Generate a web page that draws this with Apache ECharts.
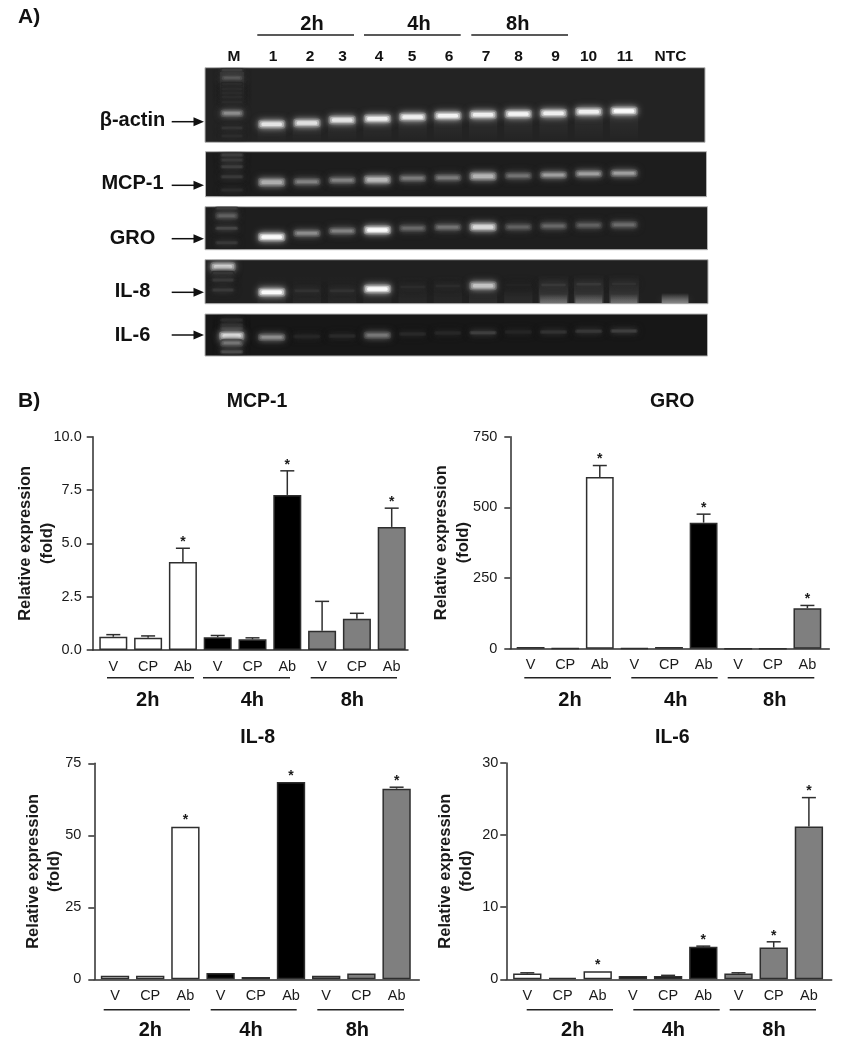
<!DOCTYPE html>
<html><head><meta charset="utf-8">
<style>html,body{margin:0;padding:0;background:#fff}#c{width:847px;height:1045px}</style>
<script src="https://cdn.jsdelivr.net/npm/echarts@6/dist/echarts.min.js"></script>
</head><body><div id="c"></div>
<script>
// ---------- panel B data ----------
const barCats = ['V','CP','Ab','V','CP','Ab','V','CP','Ab'];
const timeGroups = ['2h','4h','8h'];
const mcpMeans = [0.62,0.58,4.12,0.6,0.5,7.27,0.9,1.47,5.77];
const mcpTops  = [0.72,0.66,4.77,0.68,0.57,8.4,2.28,1.72,6.65];
const mcpStars = [2,5,8];
const groMeans = [6,1,607,2,6,446,0,0,143];
const groTops  = [7,1,648,3,7,476,0,0,153];
const groStars = [2,5,8];
const il8Means = [1.2,1.2,53,2.2,0.8,68.5,1.2,2,66.2];
const il8Tops  = [1.2,1.2,53.1,2.2,0.8,68.6,1.2,2,66.7];
const il8Stars = [2,5,8];
const il6Means = [0.8,0.2,1.1,0.45,0.45,4.5,0.8,4.4,21.2];
const il6Tops  = [0.9,0.25,1.15,0.5,0.55,4.6,0.9,5.2,25.2];
const il6Stars = [2,5,7,8];
// ---------- panel A data ----------
const gelRows = ['β-actin','MCP-1','GRO','IL-8','IL-6'];
const laneLabels = ['M','1','2','3','4','5','6','7','8','9','10','11','NTC'];
const actinIntensity = [.9,.88,.9,.95,.95,.97,.95,.97,.95,.95,1];
const mcpIntensity = [.65,.45,.45,.7,.42,.42,.68,.38,.58,.58,.58];
const groIntensity = [1,.5,.45,1,.33,.38,.85,.3,.33,.3,.35];
const il8Intensity = [1,.12,.12,1,.08,.08,.75,.03,.16,.16,.12];
const il6Intensity = [.5,.05,.07,.4,.06,.05,.2,.04,.12,.15,.2];
const actinMigration = [124.3,123,120,118.7,117,115.7,114.7,114,113.3,111.7,111];
const mcpMigration = [182.3,181.7,180.3,179.7,178.3,177.7,176.3,175.7,175,173.7,173.3];
const groMigration = [237,233.3,231,230,228.3,227.3,227,227,226,225.3,224.7];
const il8Migration = [292.3,290.7,290.7,289,287,286,285.7,285,285,284.3,284];
const il6Migration = [337.3,336.5,336,335.3,334,333,332.7,332,332,331.3,331];
const actinLadder = [[70,.2],[78.3,.3],[84,.1],[89,.1],[93,.1],[97,.1],[102,.08],[113.3,.5],[128,.14],[136,.09]];
const mcpLadder = [[155,.22],[160,.18],[166.7,.2],[176.7,.16],[190,.08]];
const groLadder = [[208,.2],[215.7,.3],[228.3,.25],[242.7,.16]];
const il8Ladder = [[266.7,.85],[273,.16],[280,.16],[290,.16]];
const il6Ladder = [[320,.1],[325,.12],[328,.16],[336,.95],[343,.4],[351.7,.28]];
// ---------- layout tables (pixels) ----------
const F = '"Liberation Sans",Arial,sans-serif';
const INK = '#1a1a1a', LINE = '#2e2e2e';
const charts = [
 {title:'MCP-1',tx:257,ty:401.7,means:mcpMeans,tops:mcpTops,stars:mcpStars,axisX:92.7,lineEnd:408,bandStart:95.9,band:34.8,top:436.7,bottom:650,max:10,interval:2.5,dec:1,margin:11,nameGap:35,
  lines:[[107,194],[203,290],[310.7,397]],lineY:677.7,labX:[147.7,252.3,352.3],labY:700},
 {title:'GRO',tx:672.3,ty:401.7,means:groMeans,tops:groTops,stars:groStars,axisX:510.3,lineEnd:829.3,bandStart:513.3,band:34.6,top:436.7,bottom:648.7,max:750,interval:250,dec:0,margin:13,nameGap:36.5,
  lines:[[524.3,611],[631.3,717.7],[727.7,814.3]],lineY:677.7,labX:[570,675.7,774.7],labY:700},
 {title:'IL-8',tx:257.7,ty:737.3,means:il8Means,tops:il8Tops,stars:il8Stars,axisX:94.3,lineEnd:419.3,bandStart:97.4,band:35.2,top:763.3,bottom:979.3,max:75,interval:25,dec:0,margin:13,nameGap:29,
  lines:[[103.7,190],[210.7,296.7],[317.3,404]],lineY:1009.7,labX:[150.3,251,357.3],labY:1030},
 {title:'IL-6',tx:672.3,ty:737.3,means:il6Means,tops:il6Tops,stars:il6Stars,axisX:506.3,lineEnd:831.7,bandStart:509.7,band:35.2,top:763,bottom:979.3,max:30,interval:10,dec:0,margin:8,nameGap:29,
  lines:[[526.7,613],[633.3,719.7],[729.7,816]],lineY:1009.7,labX:[572.7,673.3,774],labY:1030}
];
const groupFill = ['#ffffff','#000000','#7f7f7f'];
const laneX0 = 236.47, laneStep = 35.23;
const gelPanels = [[205,67.7,705,142.3,'#232323'],[205.5,151.7,706.5,196.7,'#1d1d1d'],[205,206.7,707.5,249.7,'#1e1e1e'],[205,259.7,708,303.7,'#202020'],[205,314,707.5,356,'#171717']];
const gelBands = [[actinIntensity,actinMigration],[mcpIntensity,mcpMigration],[groIntensity,groMigration],[il8Intensity,il8Migration],[il6Intensity,il6Migration]];
const ladders = [[actinLadder,232],[mcpLadder,232],[groLadder,226.7],[il8Ladder,223],[il6Ladder,231.7]];
const toLane = px => (px - laneX0) / laneStep;
// haze: [lane, yTop, yBottom, grey alpha, rising?, half width, panel]
const hazes = [];
[1,2,3,4,5,6,7,8,9,10,11].forEach((l,i)=>{hazes.push([l,actinMigration[i],142,.06,0,.4,0]);});
hazes.push([toLane(232),72,106,.09,0,.34,0]);
[9,10,11].forEach(l=>{hazes.push([l,274,303,.12,1,.42,3]);hazes.push([l,294,303,.26,1,.38,3]);});
[7,8].forEach(l=>{hazes.push([l,286,303,.06,1,.4,3]);});
hazes.push([12.45,293,303,.42,1,.38,3]);
[1,2,3,4,5,6].forEach(l=>{hazes.push([l,275,303,.03,1,.4,3]);});

const gray = v => { const g = Math.round(Math.min(255,v)); return 'rgb('+g+','+g+','+g+')'; };
const panelClip = idx => { const p=gelPanels[idx]; return {type:'rect',shape:{x:p[0],y:p[1],width:p[2]-p[0],height:p[3]-p[1]}}; };

// ---------- ECharts options ----------
const grids=[], xAxes=[], yAxes=[], series=[], graphics=[];

// gel grid
grids.push({left:laneX0-laneStep,width:laneStep*15,top:60,height:300});
xAxes.push({type:'value',show:false,min:-1,max:14});
yAxes.push({type:'value',show:false,inverse:true,min:60,max:360});

gelPanels.forEach(p=>{graphics.push({type:'rect',z:1,shape:{x:p[0],y:p[1],width:p[2]-p[0],height:p[3]-p[1]},style:{fill:p[4],stroke:'#b4b4b4',lineWidth:1}});});

series.push({type:'custom',xAxisIndex:0,yAxisIndex:0,z:3,silent:true,clip:false,data:hazes,encode:{x:0,y:1},
 renderItem(params,api){
  const hw=api.value(5);
  const a=api.coord([api.value(0)-hw,api.value(1)]), b=api.coord([api.value(0)+hw,api.value(2)]);
  const up=api.value(4)===1, al=api.value(3);
  const c0='rgba(255,255,255,'+(up?0:al)+')', c1='rgba(255,255,255,'+(up?al:0)+')';
  return {type:'group',clipPath:panelClip(api.value(6)),children:[{type:'rect',shape:{x:a[0],y:a[1],width:b[0]-a[0],height:b[1]-a[1]},
   style:{fill:new echarts.graphic.LinearGradient(0,0,0,1,[{offset:0,color:c0},{offset:1,color:c1}]),shadowBlur:7,shadowColor:'rgba(255,255,255,'+al*.7+')'}}]};
 }});

const bandData=[];
gelBands.forEach(([ints,migs],r)=>{ints.forEach((v,i)=>bandData.push([i+1,migs[i],v,.78,r]));});
ladders.forEach(([lad,cx],r)=>{lad.forEach(b=>bandData.push([toLane(cx),b[0],b[1],b[1]>.7?.72:.66,r]));});
series.push({type:'custom',xAxisIndex:0,yAxisIndex:0,z:4,silent:true,clip:false,data:bandData,encode:{x:0,y:1},
 renderItem(params,api){
  const c=api.coord([api.value(0),api.value(1)]), v=api.value(2), w=api.value(3)*laneStep;
  const strong=v>.6, faint=v<.3;
  const r=(ww,h,fillV,blur,shV,rr)=>({type:'rect',shape:{x:c[0]-ww/2,y:c[1]-h/2,width:ww,height:h,r:rr},
    style:{fill:gray(30+fillV),shadowBlur:blur,shadowColor:gray(30+shV)}});
  const kids=[r(w,strong?9:(faint?4:7.5),v*85,7,v*100,3), r(w-3,strong?6:(faint?2.5:4.5),v*160,5,v*150,2)];
  if(!faint) kids.push(r(w-7,strong?3.6:2.4,v*220,3,v*200,1.5));
  return {type:'group',clipPath:panelClip(api.value(4)),children:kids};
 }});

// bar charts
charts.forEach((c,k)=>{
 const h=c.bottom-c.top, gf=grids.length, gb=gf+1;
 grids.push({left:c.axisX,width:c.lineEnd-c.axisX,top:c.top,height:h});
 xAxes.push({type:'value',gridIndex:gf,min:0,max:1,axisLabel:{show:false},axisTick:{show:false},splitLine:{show:false},
  axisLine:{show:true,onZero:false,lineStyle:{color:LINE,width:1.5}}});
 yAxes.push({type:'value',gridIndex:gf,min:0,max:c.max,interval:c.interval,splitLine:{show:false},
  axisLine:{show:true,onZero:false,lineStyle:{color:LINE,width:1.5}},axisTick:{show:true,length:6,lineStyle:{color:LINE,width:1.5}},
  axisLabel:{margin:c.margin,color:INK,fontFamily:F,fontSize:14.5,formatter:v=>v.toFixed(c.dec)},
  name:'Relative expression\n(fold)',nameLocation:'middle',nameRotate:90,nameGap:c.nameGap,nameMoveOverlap:false,
  nameTextStyle:{color:INK,fontFamily:F,fontSize:16.5,fontWeight:'bold',lineHeight:21.3}});
 grids.push({left:c.bandStart,width:c.band*9,top:c.top,height:h});
 xAxes.push({type:'category',gridIndex:gb,data:barCats,axisLine:{show:false},axisTick:{show:false},
  axisLabel:{interval:0,margin:9,color:INK,fontFamily:F,fontSize:14.5}});
 yAxes.push({type:'value',gridIndex:gb,show:false,min:0,max:c.max});
 series.push({type:'bar',xAxisIndex:gb,yAxisIndex:gb,barWidth:c.band*0.805,silent:true,z:3,
  data:c.means.map((v,i)=>({value:v,itemStyle:{color:groupFill[Math.floor(i/3)],borderColor:LINE,borderWidth:1.5}}))});
 series.push({type:'custom',xAxisIndex:gb,yAxisIndex:gb,silent:true,z:2,clip:false,
  data:c.tops.map((t,i)=>[i,c.means[i],t,c.stars.includes(i)?1:0]),encode:{x:0,y:2},
  renderItem(params,api){
   const a=api.coord([api.value(0),api.value(1)]), b=api.coord([api.value(0),api.value(2)]);
   const st={stroke:LINE,lineWidth:1.5}, kids=[];
   if(a[1]-b[1]>=0.5){
    kids.push({type:'line',shape:{x1:b[0],y1:a[1],x2:b[0],y2:b[1]},style:st});
    kids.push({type:'line',shape:{x1:b[0]-7,y1:b[1],x2:b[0]+7,y2:b[1]},style:st});
   }
   if(api.value(3)) kids.push({type:'text',style:{text:'*',x:b[0],y:b[1]-6,textAlign:'center',textVerticalAlign:'middle',fill:INK,font:'bold 14px '+F}});
   return {type:'group',children:kids};
  }});
 const txt=(t,x,y,sz)=>graphics.push({type:'text',z:5,style:{text:t,x,y,textAlign:'center',textVerticalAlign:'middle',fill:'#111',font:'bold '+sz+'px '+F}});
 txt(c.title,c.tx,c.ty,19.5);
 c.lines.forEach((l,i)=>{
  graphics.push({type:'line',z:5,shape:{x1:l[0],y1:c.lineY,x2:l[1],y2:c.lineY},style:{stroke:'#222',lineWidth:1.5}});
  txt(timeGroups[i],c.labX[i],c.labY,20);
 });
});

const T=(t,x,y,sz,al)=>graphics.push({type:'text',z:5,style:{text:t,x,y,textAlign:al||'center',textVerticalAlign:'middle',fill:'#111',font:'bold '+sz+'px '+F}});
T('A)',18,17,21,'left'); T('B)',18,401.7,21,'left');
const laneLabelX=[234,273,310,342.5,379,412,449,486,518.5,555.5,588.5,625,670.5];
laneLabels.forEach((t,i)=>T(t,laneLabelX[i],56.7,15.5));
[[257.3,354,312],[364,460.7,419],[471.3,568,517.7]].forEach((g,i)=>{
 T(timeGroups[i],g[2],24,20);
 graphics.push({type:'line',z:5,shape:{x1:g[0],y1:35,x2:g[1],y2:35},style:{stroke:'#222',lineWidth:1.5}});
});
const rowLabelY=[120.7,183.3,238.3,291.7,335.7], arrowY=[121.7,185.3,238.7,292.3,335];
gelRows.forEach((t,i)=>{
 T(t,132.5,rowLabelY[i],20);
 const y=arrowY[i];
 graphics.push({type:'line',z:5,shape:{x1:171.7,y1:y,x2:196,y2:y},style:{stroke:'#111',lineWidth:1.5}});
 graphics.push({type:'polygon',z:5,shape:{points:[[193.5,y-4.5],[204,y],[193.5,y+4.5]]},style:{fill:'#111'}});
});

const chart=echarts.init(document.getElementById('c'),null,{renderer:'canvas'});
chart.setOption({animation:false,backgroundColor:'#fff',grid:grids,xAxis:xAxes,yAxis:yAxes,series,graphic:{elements:graphics}});
</script></body></html>
